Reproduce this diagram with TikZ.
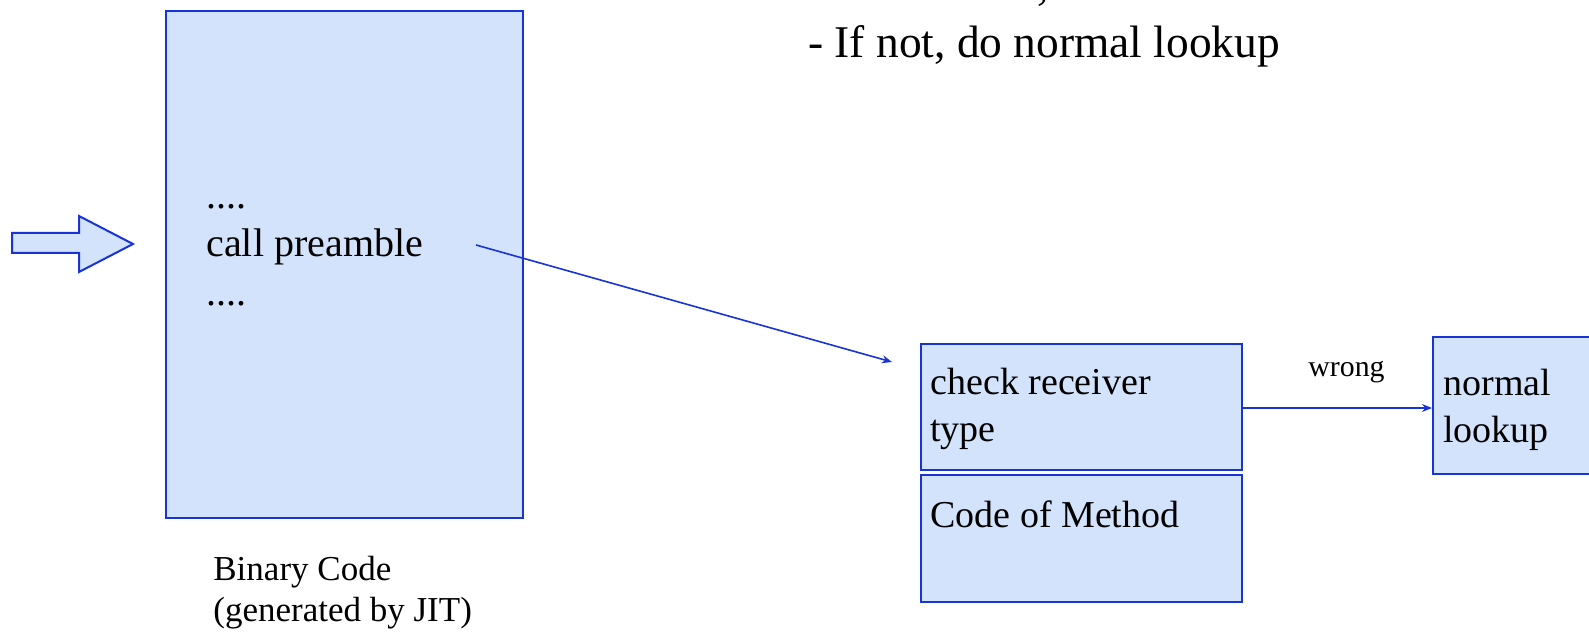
\documentclass[tikz,border=0pt]{standalone}
\usepackage{fontspec}
\setmainfont{Liberation Serif}
\usetikzlibrary{arrows.meta}
\definecolor{boxfill}{RGB}{211,227,252}
\definecolor{boxline}{RGB}{24,52,214}
\tikzset{
  panel/.style={draw=boxline,fill=boxfill,line width=1pt,inner sep=0pt},
  txt/.style={anchor=base west,inner sep=0pt,font=\fontsize{19}{19}\selectfont},
  conn/.style={draw=boxline,line width=0.8pt,-{Stealth[length=5pt,width=4pt]}}
}
\begin{document}
\begin{tikzpicture}[x=0.5pt,y=-0.5pt]
\useasboundingbox (0,0) rectangle (1589,635);

% bullet text at the top
\node[anchor=base west,inner sep=0pt,font=\fontsize{22.7}{22.7}\selectfont] (comma) at (1037,0) {,};
\node[anchor=base west,inner sep=0pt,font=\fontsize{22.7}{22.7}\selectfont] (bullet) at (808,58) {- If not, do normal lookup};

% entry arrow
\draw[boxline,fill=boxfill,line width=1pt] (12,233) -- (79,233) -- (79,216) -- (133,244) -- (79,272) -- (79,253) -- (12,253) -- cycle;

% binary code block
\node[panel,minimum width=178.5pt,minimum height=253.5pt,anchor=north west] (bin) at (165,10) {};
\node[txt,font=\fontsize{20}{20}\selectfont] (d1) at (206,209) {....};
\node[txt,font=\fontsize{20}{20}\selectfont] (call) at (206,257) {call preamble};
\node[txt,font=\fontsize{20}{20}\selectfont] (d2) at (206,306) {....};
\node[txt,font=\fontsize{17.5}{17.5}\selectfont] (bc1) at (213,580) {Binary Code};
\node[txt,font=\fontsize{17.5}{17.5}\selectfont] (bc2) at (213,621) {(generated by JIT)};

% preamble and method
\node[panel,minimum width=160.5pt,minimum height=63pt,anchor=north west] (check) at (920,343) {};
\node[panel,minimum width=160.5pt,minimum height=63.5pt,anchor=north west] (method) at (920,474) {};
\node[panel,minimum width=85pt,minimum height=68.5pt,anchor=north west] (normal) at (1432,336) {};

\node[txt] (t1) at (930,395) {check receiver};
\node[txt] (t2) at (930,442) {type};
\node[txt] (t3) at (930,528) {Code of Method};
\node[txt] (t4) at (1443,396) {normal};
\node[txt] (t5) at (1443,443) {lookup};
\node[anchor=base west,inner sep=0pt,font=\fontsize{14.9}{14.9}\selectfont] (wrong) at (1308,377) {wrong};

% connectors
\coordinate (from) at (476,245);
\coordinate (to) at (892,362);
\draw[conn] (from) -- (to);
\draw[conn] (check.east |- 0,408) -- (normal.west |- 0,408);
\end{tikzpicture}
\end{document}
